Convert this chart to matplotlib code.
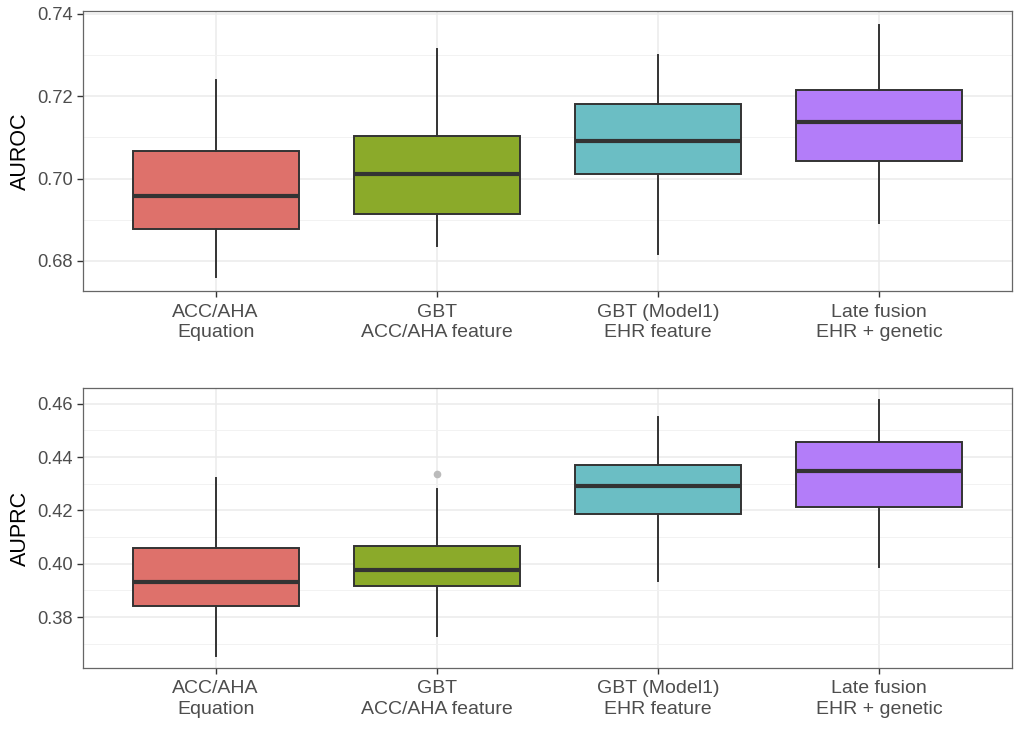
import numpy as np
import matplotlib
matplotlib.use('Agg')
import matplotlib.pyplot as plt
from matplotlib.ticker import MultipleLocator

plt.rcParams.update({'font.family': ['Liberation Sans', 'DejaVu Sans']})

labels = ['ACC/AHA\nEquation', 'GBT\nACC/AHA feature',
          'GBT (Model1)\nEHR feature', 'Late fusion\nEHR + genetic']
colors = ['#DE716B', '#8BAA2A', '#6BBEC4', '#B37DF9']

# AUROC box statistics (whisker low, q1, median, q3, whisker high)
auroc_lo = [0.6760, 0.6837, 0.6816, 0.6893]
auroc_q1 = [0.6878, 0.6913, 0.7012, 0.7042]
auroc_med = [0.6957, 0.7011, 0.7091, 0.7138]
auroc_q3 = [0.7068, 0.7104, 0.7181, 0.7215]
auroc_hi = [0.7239, 0.7314, 0.7301, 0.7374]
auroc_fliers = [[], [], [], []]

# AUPRC box statistics
auprc_lo = [0.3653, 0.3729, 0.3934, 0.3988]
auprc_q1 = [0.3843, 0.3915, 0.4185, 0.4214]
auprc_med = [0.3931, 0.3975, 0.4290, 0.4346]
auprc_q3 = [0.4060, 0.4065, 0.4371, 0.4456]
auprc_hi = [0.4323, 0.4279, 0.4550, 0.4613]
auprc_fliers = [[], [0.4338], [], []]


def make_stats(lo, q1, med, q3, hi, fl):
    return [dict(whislo=a, q1=b, med=c, q3=d, whishi=e, fliers=f)
            for a, b, c, d, e, f in zip(lo, q1, med, q3, hi, fl)]


def draw(ax, stats, ylabel, ylim, major):
    pos = np.arange(1, len(stats) + 1)
    bp = ax.bxp(stats, positions=pos, widths=0.75, patch_artist=True,
                showcaps=False, showfliers=True,
                boxprops=dict(edgecolor='#333333', linewidth=1.4),
                whiskerprops=dict(color='#333333', linewidth=1.4),
                medianprops=dict(color='#333333', linewidth=3.0),
                flierprops=dict(marker='o', markersize=4.5, markerfacecolor='#BBBBBB',
                                markeredgecolor='#BBBBBB'),
                zorder=3)
    for patch, c in zip(bp['boxes'], colors):
        patch.set_facecolor(c)
    ax.set_xlim(0.4, len(stats) + 0.6)
    ax.set_ylim(*ylim)
    ax.yaxis.set_major_locator(MultipleLocator(major))
    ax.yaxis.set_minor_locator(MultipleLocator(major / 2))
    ax.yaxis.set_major_formatter(matplotlib.ticker.FormatStrFormatter('%.2f'))
    ax.set_xticks(pos)
    ax.set_xticklabels(labels, linespacing=1.3)
    ax.grid(which='major', color='#EBEBEB', linewidth=1.1, zorder=0)
    ax.grid(which='minor', axis='y', color='#F2F2F2', linewidth=0.7, zorder=0)
    ax.set_axisbelow(True)
    ax.tick_params(which='major', length=4, width=1.0, color='#333333',
                   labelcolor='#4D4D4D', pad=3)
    ax.tick_params(axis='x', labelsize=14, pad=5)
    ax.tick_params(axis='y', labelsize=13.2)
    ax.tick_params(which='minor', length=0)
    for s in ax.spines.values():
        s.set_color('#666666')
        s.set_linewidth(0.9)
    ax.set_ylabel(ylabel, fontsize=15.5, labelpad=5)


fig = plt.figure(figsize=(10.24, 7.53), dpi=100)
ax1 = fig.add_axes([0.081, 0.6135, 0.907, 0.372])
ax2 = fig.add_axes([0.081, 0.1129, 0.907, 0.3718])

draw(ax1, make_stats(auroc_lo, auroc_q1, auroc_med, auroc_q3, auroc_hi, auroc_fliers),
     'AUROC', (0.6727, 0.7407), 0.02)
draw(ax2, make_stats(auprc_lo, auprc_q1, auprc_med, auprc_q3, auprc_hi, auprc_fliers),
     'AUPRC', (0.3609, 0.4659), 0.02)

fig.savefig('out.png', dpi=100)
